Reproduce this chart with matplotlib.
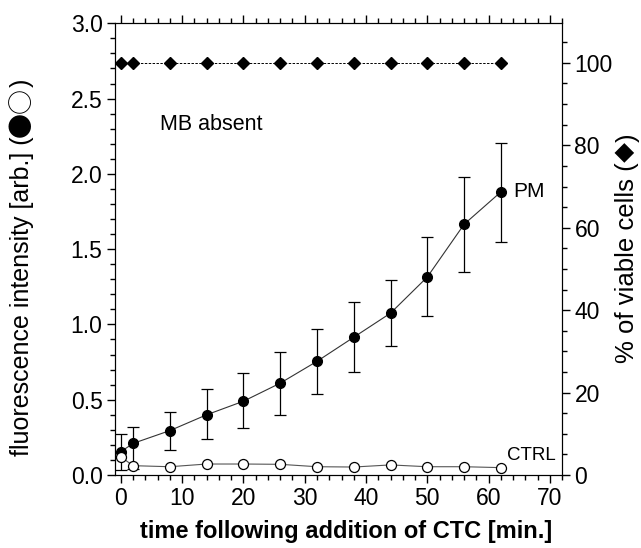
import matplotlib
matplotlib.use("Agg")
import matplotlib.pyplot as plt
from matplotlib.ticker import MultipleLocator, FormatStrFormatter

plt.rcParams['font.family'] = ['Liberation Sans', 'DejaVu Sans']
sym_fonts = ['Noto Sans CJK JP', 'DejaVu Sans']

# time points (min)
t = [0, 2, 8, 14, 20, 26, 32, 38, 44, 50, 56, 62]

# PM fluorescence, with lower / upper error bar ends
pm = [0.155, 0.21, 0.295, 0.40, 0.49, 0.61, 0.755, 0.915, 1.075, 1.315, 1.665, 1.88]
pm_lo = [0.03, 0.04, 0.165, 0.237, 0.315, 0.40, 0.537, 0.687, 0.854, 1.053, 1.349, 1.548]
pm_hi = [0.27, 0.32, 0.417, 0.57, 0.677, 0.82, 0.97, 1.149, 1.293, 1.58, 1.98, 2.207]

# control fluorescence
ctrl = [0.12, 0.062, 0.055, 0.073, 0.073, 0.071, 0.055, 0.053, 0.067, 0.055, 0.055, 0.049]

# viability (%)
viable = [100, 100, 100, 100, 100, 100, 100, 100, 100, 100, 100, 100]

fig = plt.figure(figsize=(6.41, 5.48), dpi=100)
ax = fig.add_axes([0.179, 0.1332, 0.698, 0.8243])

yerr = [[p - l for p, l in zip(pm, pm_lo)], [h - p for p, h in zip(pm, pm_hi)]]
ax.errorbar(t, pm, yerr=yerr, fmt='o', color='black', ms=7, capsize=4.5,
            elinewidth=0.9, capthick=0.9, zorder=3)
ax.plot(t, pm, '-', color='#333333', lw=0.8, zorder=2)
ax.plot(t, ctrl, '-', color='#555555', lw=0.8, zorder=2)
ax.plot(t, ctrl, 'o', mfc='white', mec='black', mew=0.9, ms=7.2, zorder=4)

ax.set_xlim(-1, 72)
ax.set_ylim(0, 3.0)
ax.xaxis.set_major_locator(MultipleLocator(10))
ax.xaxis.set_minor_locator(MultipleLocator(2))
ax.yaxis.set_major_locator(MultipleLocator(0.5))
ax.yaxis.set_minor_locator(MultipleLocator(0.1))
ax.yaxis.set_major_formatter(FormatStrFormatter('%.1f'))
ax.tick_params(which='both', direction='out', top=True, labelsize=16.5, width=1)
ax.tick_params(which='major', length=5.8, pad=3)
ax.tick_params(which='minor', length=3.6)

ax.set_xlabel('time following addition of CTC [min.]', fontsize=17, fontweight='bold')
ax.xaxis.set_label_coords(0.517, -0.10)

# left label: text + big symbols + closing bracket
ylab = ax.set_ylabel('fluorescence intensity [arb.] (', fontsize=18)
ax.yaxis.set_label_coords(-0.18, 0.395)
s1 = ax.annotate('●○', xy=(0.5, 1), xycoords=ylab, rotation=90, ha='center',
                 va='bottom', fontsize=18, family=sym_fonts)
ax.annotate(')', xy=(0.5, 1), xycoords=(ylab, s1), rotation=90, ha='center',
            va='bottom', fontsize=18)

ax.text(6.4, 2.33, 'MB absent', fontsize=15.5, va='center', ha='left')
ax.text(64.0, 1.88, 'PM', fontsize=15, va='center', ha='left')
ax.text(63.0, 0.075, 'CTRL', fontsize=13.5, va='bottom', ha='left')

ax2 = ax.twinx()
ax2.plot(t, viable, 'D', color='black', ms=6.5, linestyle=(0, (2.5, 1.5)), lw=0.7)
ax2.set_ylim(0, 109.6)
ax2.yaxis.set_major_locator(MultipleLocator(20))
ax2.yaxis.set_minor_locator(MultipleLocator(5))
ax2.tick_params(which='both', direction='out', labelsize=16.5, width=1)
ax2.tick_params(which='major', length=5.8, pad=3)
ax2.tick_params(which='minor', length=3.6)

# right label: text + diamond + closing bracket
ylab2 = ax2.set_ylabel('% of viable cells (', fontsize=18.5)
ax2.yaxis.set_label_coords(1.119, 0.47)
s2 = ax2.annotate('◆', xy=(0.5, 1), xycoords=ylab2, rotation=90, ha='center',
                  va='bottom', fontsize=14.5, family=sym_fonts)
ax2.annotate(')', xy=(0.5, 1), xycoords=(ylab2, s2), rotation=90, ha='center',
             va='bottom', fontsize=18.5)

fig.savefig('out.png', dpi=100)
